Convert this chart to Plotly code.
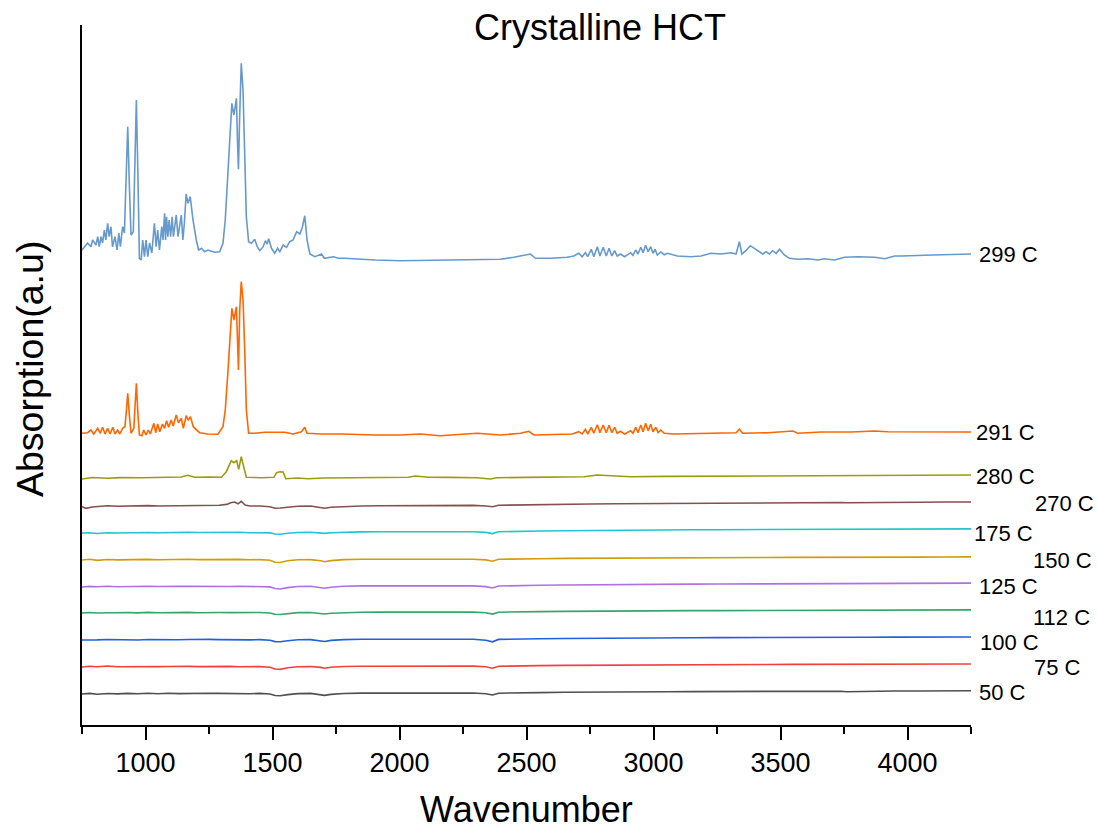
import plotly.graph_objects as go

FONT = "Liberation Sans, Arial, sans-serif"

# ---------------------------------------------------------------------------
# Spectra (wavenumber in cm^-1, absorption in arbitrary units relative to each
# trace's own baseline)
# ---------------------------------------------------------------------------
wn_299 = [750, 772, 785, 792, 805, 812, 818, 825, 831, 838,
          844, 851, 857, 864, 870, 880, 888, 895, 901, 910,
          917, 923, 930, 937, 943, 952, 958, 964, 970, 976,
          983, 989, 996, 1002, 1009, 1016, 1025, 1035, 1042, 1048,
          1055, 1064, 1069, 1075, 1079, 1083, 1088, 1093, 1099, 1105,
          1110, 1121, 1128, 1141, 1147, 1153, 1160, 1167, 1176, 1187,
          1200, 1209, 1220, 1233, 1246, 1272, 1292, 1305, 1314, 1322,
          1331, 1340, 1348, 1358, 1362, 1366, 1370, 1377, 1384, 1391,
          1397, 1406, 1417, 1430, 1440, 1450, 1463, 1472, 1479, 1485,
          1496, 1509, 1520, 1529, 1542, 1555, 1568, 1581, 1595, 1608,
          1618, 1627, 1636, 1647, 1667, 1693, 1704, 1739, 1760, 1785,
          1838, 1904, 2002, 2100, 2200, 2300, 2397, 2450, 2496, 2515,
          2535, 2594, 2660, 2686, 2706, 2719, 2732, 2741, 2755, 2765,
          2779, 2789, 2802, 2814, 2825, 2836, 2847, 2857, 2870, 2886,
          2910, 2919, 2930, 2939, 2950, 2959, 2969, 2979, 2989, 2998,
          3006, 3015, 3029, 3042, 3055, 3094, 3147, 3187, 3226, 3266,
          3305, 3325, 3338, 3348, 3364, 3381, 3397, 3417, 3430, 3443,
          3456, 3469, 3483, 3496, 3515, 3535, 3568, 3608, 3647, 3672,
          3713, 3752, 3805, 3871, 3910, 3950, 3976, 4100, 4250]
abs_299 = [8, 15, 11.3, 18, 13, 21.3, 11.3, 21.3, 15, 28,
           18, 34.7, 21.3, 31.3, 11.3, 21.3, 8, 25, 11.3, 31.3,
           25, 85, 131.3, 68, 23, 26.3, 85, 158, 85, -0.3,
           -2, 18, 1.3, 18, 1.3, 15, 5, 34.7, 11.3, 28,
           8, 31.3, 18, 44.7, 18, 41.3, 21.3, 38, 21.3, 41.3,
           21.3, 43, 21.3, 43, 18, 34.7, 64, 54.7, 61.3, 38,
           18, 8, 9.7, 6.3, 8, 5.7, 6.3, 14.7, 38, 71.3,
           118, 154.7, 143, 159.7, 118, 88.7, 135, 194.7, 168, 101.3,
           41.3, 16.3, 14.7, 18.7, 11.3, 7.3, 11.3, 17.3, 14, 19.3,
           9.7, 4.7, 9.7, 6.3, 13, 10.7, 16.3, 18, 26.3, 24,
           31.3, 42.3, 18, 4, 1.3, 4, -0.3, 1.3, -0.3, -0.3,
           -1.3, -2, -2.7, -2.3, -2, -1.7, -1.3, 0.7, 3, 4,
           -0.3, -0.3, 0.7, 2, 4.7, 1.3, 5.3, 1.3, 8.7, 1.3,
           11.3, 2, 10.7, 2, 9.7, 2, 7.3, 2, 4, 1.3,
           5.3, 2.7, 8, 4, 10.7, 5.3, 12.7, 6.3, 11.3, 4.7,
           8.7, 3, 6, 3.3, 4.7, 2, 1.3, 2, 4.7, 4,
           5.3, 4, 16.3, 4, 7.3, 12.3, 9.7, 6.3, 4, 6.3,
           4, 7.3, 4.7, 8.7, 3, -0.3, -1.3, -0.7, -2, -0.7,
           -2, 0.7, 1.3, 0.7, -0.7, 2, 2, 3, 4]

wn_291 = [750, 772, 785, 796, 812, 822, 831, 841, 851, 861,
          871, 880, 890, 899, 910, 919, 925, 930, 937, 943,
          954, 959, 964, 970, 976, 986, 993, 1002, 1011, 1019,
          1033, 1040, 1048, 1056, 1067, 1075, 1083, 1091, 1101, 1109,
          1121, 1130, 1141, 1149, 1160, 1168, 1177, 1188, 1200, 1213,
          1246, 1285, 1305, 1314, 1325, 1334, 1340, 1348, 1358, 1366,
          1371, 1377, 1384, 1391, 1397, 1406, 1430, 1469, 1509, 1549,
          1581, 1614, 1627, 1636, 1693, 1772, 1904, 2002, 2081, 2160,
          2305, 2358, 2397, 2476, 2509, 2529, 2594, 2680, 2706, 2719,
          2732, 2741, 2755, 2765, 2779, 2789, 2802, 2814, 2825, 2836,
          2847, 2857, 2870, 2886, 2910, 2919, 2930, 2939, 2950, 2959,
          2969, 2979, 2989, 2998, 3009, 3018, 3029, 3042, 3081, 3187,
          3239, 3325, 3338, 3351, 3450, 3549, 3568, 3660, 3778, 3871,
          3923, 3976, 4250]
abs_291 = [-0.3, 0.3, 3, -1, 4.7, -0.3, 5.7, -1, 4.7, -1,
           5.7, -1, 3, -1, 4.7, 6.3, 23, 39.7, 16.3, -0.3,
           4.7, 23, 49.7, 19.7, -2, -2.7, 3, -2, 3, -1,
           9.7, 0.3, 9, 1.3, 9, 4.7, 12.3, 5.7, 13, 7,
           18, 10.3, 14.7, 4.7, 17.3, 13, 16.3, 6.3, 3, 0.3,
           -1, -1.3, 6.3, 23, 63, 103, 124.7, 113, 126.3, 63,
           123, 151.3, 133, 79.7, 23, -0.3, -0.3, 0.7, 1, 0.7,
           -1, 1.3, 5.7, -0.3, -1, -1, -2, -2, -1, -2.7,
           -0.3, -1, -2, -0.3, 1.7, -2, -1.7, -1, 1.3, -1,
           3.7, -1, 5.7, -0.3, 8.3, 0.3, 8, 0.3, 7.7, 0.3,
           5.7, -0.3, 1.7, -1, 2.3, -0.3, 5.7, 0.3, 8, 1.3,
           9.7, 2.3, 8.7, 1.3, 5.7, 0.3, 3, -0.3, -1, -0.3,
           0.3, 0.3, 3.7, -0.3, 0.3, 2, -0.3, 1, 1, 2,
           1.3, 1.3, 1]

wn_280 = [750, 790, 851, 900, 983, 1050, 1114, 1140, 1167, 1193,
          1250, 1299, 1318, 1338, 1348, 1359, 1367, 1377, 1388, 1397,
          1457, 1506, 1516, 1529, 1542, 1552, 1600, 1640, 1700, 1772,
          1900, 2035, 2062, 2114, 2200, 2305, 2358, 2384, 2500, 2600,
          2726, 2779, 2831, 2910, 3050, 3200, 3350, 3500, 3650, 3800,
          3950, 4100, 4250]
abs_280 = [-1.0, 0.5, -0.3, 0.4, 0.3, 0.8, 1.3, 1.0, 2.7, 0.7,
           1.0, 0.7, 6.3, 17.3, 15.3, 17.3, 8.7, 21.3, 9.7, 0.7,
           0.3, 0.7, 5.3, 6.3, 6.0, -0.7, 0.0, -0.7, 0.0, 0.3,
           0.5, 0.7, 2.0, 0.7, 0.6, 0.3, -1.0, 0.3, 0.6, 0.8,
           1.3, 3.0, 2.3, 1.3, 1.6, 1.8, 2.0, 2.3, 2.2, 2.5,
           2.6, 2.8, 3.0]

wn_270 = [750, 765, 790, 850, 890, 930, 970, 1010, 1050, 1090,
          1130, 1170, 1210, 1250, 1290, 1320, 1335, 1351, 1364, 1377,
          1392, 1410, 1450, 1490, 1510, 1530, 1560, 1600, 1650, 1690,
          1705, 1730, 1780, 1850, 1920, 2000, 2100, 2200, 2290, 2340,
          2366, 2390, 2450, 2550, 2650, 2750, 2850, 2950, 3050, 3150,
          3250, 3350, 3450, 3550, 3650, 3740, 3760, 3850, 3950, 4050,
          4150, 4250]
abs_270 = [0.3, -1.3, 0.0, 1.3, 0.8, 1.2, 1.0, 1.4, 1.0, 1.2,
           0.9, 1.3, 1.1, 1.4, 1.7, 2.6, 4.3, 5.0, 3.2, 5.7,
           2.0, 1.0, 1.0, 0.2, -1.3, -1.0, -0.2, 0.8, 1.0, -0.8,
           -1.3, -0.2, 0.6, 1.0, 1.2, 1.3, 1.5, 1.7, 1.6, 1.0,
           0.3, 1.7, 2.0, 2.2, 2.6, 3.0, 3.2, 3.4, 3.6, 3.7,
           3.9, 4.0, 4.1, 4.3, 4.3, 4.5, 4.2, 4.6, 4.7, 4.8,
           5.0, 5.0]

# Low-temperature traces share one wavenumber grid
wn_flat = [750, 780, 810, 850, 890, 930, 970, 1010, 1050, 1090,
           1130, 1170, 1210, 1250, 1290, 1330, 1370, 1410, 1450, 1490,
           1510, 1530, 1560, 1600, 1650, 1690, 1705, 1730, 1780, 1850,
           1920, 2000, 2100, 2200, 2290, 2340, 2366, 2390, 2450, 2550,
           2650, 2750, 2850, 2950, 3050, 3150, 3250, 3350, 3450, 3550,
           3650, 3740, 3760, 3850, 3950, 4050, 4150, 4250]
abs_175 = [0, 0.2, -0.5, 0.3, 0.0, 0.4, 0.2, 0.5, 0.3, 0.6,
           0.4, 0.6, 0.5, 0.7, 0.6, 0.4, 0.7, 0.3, 0.5, 0.1,
           -1.0, -1.3, -0.3, 0.5, 0.7, 0.2, -0.4, 0.3, 0.8, 1.1,
           1.3, 1.4, 1.6, 1.7, 1.3, 0.6, -0.6, 1.2, 1.7, 2.0,
           2.3, 2.6, 2.8, 3.0, 3.1, 3.2, 3.3, 3.4, 3.5, 3.6,
           3.6, 3.7, 3.4, 3.8, 3.9, 4.0, 4.0, 4.1]
abs_150 = [0, 0.7, -0.4, 0.5, 0.1, 0.5, 0.2, 0.6, 0.3, 0.6,
           0.4, 0.7, 0.4, 0.6, 0.5, 0.3, 0.6, 0.2, 0.4, -0.2,
           -2.2, -2.5, -0.8, 0.2, 0.4, -0.8, -1.7, -0.6, 0.4, 0.8,
           0.9, 1.0, 1.1, 1.1, 0.8, 0.1, -1.2, 0.7, 1.1, 1.3,
           1.6, 1.8, 2.0, 2.1, 2.2, 2.3, 2.4, 2.5, 2.5, 2.6,
           2.6, 2.7, 2.2, 2.8, 2.9, 2.9, 3.0, 3.1]
abs_125 = [0, 0.6, 0.2, 0.7, 0.3, 0.6, 0.4, 0.8, 0.5, 0.9,
           0.6, 0.8, 0.6, 0.9, 0.7, 0.5, 0.8, 0.4, 0.6, 0.1,
           -1.5, -2.0, -0.6, 0.5, 0.7, -0.2, -1.2, -0.2, 0.7, 1.1,
           1.2, 1.3, 1.4, 1.5, 1.1, 0.4, -1.0, 1.0, 1.5, 1.7,
           2.0, 2.3, 2.5, 2.6, 2.8, 2.9, 3.0, 3.1, 3.2, 3.3,
           3.3, 3.4, 2.9, 3.5, 3.6, 3.7, 3.8, 3.9]
abs_112 = [0, 0.5, 0.0, 0.4, 0.2, 0.5, 0.1, 0.6, 0.3, 0.6,
           0.4, 0.6, 0.3, 0.7, 0.5, 0.4, 0.6, 0.2, 0.5, 0.0,
           -1.2, -1.5, -0.5, 0.4, 0.5, -0.3, -1.0, -0.2, 0.5, 0.8,
           0.9, 1.0, 1.1, 1.2, 0.9, 0.2, -1.1, 0.8, 1.2, 1.4,
           1.6, 1.9, 2.0, 2.1, 2.3, 2.4, 2.4, 2.5, 2.6, 2.6,
           2.7, 2.8, 2.3, 2.9, 2.9, 3.0, 3.1, 3.1]
abs_100 = [0, 0.4, 0.1, 0.5, 0.2, 0.4, 0.0, 0.5, 0.2, 0.6,
           0.3, 0.5, 0.2, 0.6, 0.4, 0.2, 0.5, 0.1, 0.4, -0.2,
           -1.6, -1.7, -0.7, 0.3, 0.4, -0.6, -1.5, -0.4, 0.4, 0.7,
           0.8, 0.9, 1.0, 1.1, 0.7, -0.3, -1.8, 0.6, 1.1, 1.3,
           1.5, 1.8, 1.9, 2.1, 2.2, 2.3, 2.4, 2.4, 2.5, 2.6,
           2.6, 2.7, 2.1, 2.8, 2.9, 2.9, 3.0, 3.0]
abs_75 = [0, 0.8, 0.2, 1.0, 0.3, 0.5, 0.1, 0.6, 0.4, 0.5,
          0.2, 0.6, 0.4, 0.7, 0.5, 0.6, 0.3, 0.5, 0.4, -0.3,
          -2.0, -2.4, -0.8, 0.3, 0.5, -0.4, -1.2, -0.3, 0.5, 0.8,
          0.9, 1.0, 1.1, 1.2, 0.9, 0.2, -1.2, 0.7, 1.2, 1.4,
          1.6, 1.8, 2.0, 2.1, 2.2, 2.3, 2.4, 2.5, 2.5, 2.6,
          2.7, 2.7, 2.3, 2.8, 2.9, 3.0, 3.1, 3.0]
abs_50 = [0, 0.6, -0.2, 0.5, 0.1, 0.6, 0.2, 0.7, 0.3, 0.8,
          0.4, 0.7, 0.5, 0.8, 0.6, 0.3, 0.7, 0.2, 0.6, 0.0,
          -1.5, -1.8, -0.6, 0.4, 0.6, -0.5, -1.4, -0.4, 0.5, 0.9,
          1.0, 1.1, 1.2, 1.3, 1.0, 0.3, -1.0, 0.8, 1.3, 1.4,
          1.7, 2.0, 2.1, 2.2, 2.3, 2.4, 2.5, 2.6, 2.6, 2.7,
          2.7, 2.8, 2.2, 2.9, 3.0, 3.0, 3.2, 3.2]

labels = ["299 C", "291 C", "280 C", "270 C", "175 C", "150 C",
          "125 C", "112 C", "100 C", "75 C", "50 C"]
wavenumbers = [wn_299, wn_291, wn_280, wn_270, wn_flat, wn_flat,
               wn_flat, wn_flat, wn_flat, wn_flat, wn_flat]
absorptions = [abs_299, abs_291, abs_280, abs_270, abs_175, abs_150,
               abs_125, abs_112, abs_100, abs_75, abs_50]

# ---------------------------------------------------------------------------
# Styling / stacking
# ---------------------------------------------------------------------------
colors = ["#6699cc", "#ff6600", "#9c9c10", "#85504f", "#20c5d0", "#d19c0a",
          "#b070e0", "#37a56a", "#2060dd", "#f0413e", "#505050"]
stack_offsets = [467, 292, 247, 218, 192, 165, 138, 112, 85, 58, 31]

# label placement: left edge (px) and vertical centre (px) of each label
label_left_px = [977, 974, 974, 1033, 972, 1031, 977, 1031, 978, 1032, 977]
label_mid_px = [254, 432, 476, 503, 533, 560, 586, 617, 642, 667, 692]

PLOT_L, PLOT_T, PLOT_W, PLOT_H = 82, 25, 889, 700
Y_MAX = 700

fig = go.Figure()
for wn, ab, off, col in zip(wavenumbers, absorptions, stack_offsets, colors):
    assert len(wn) == len(ab)
    fig.add_trace(go.Scatter(
        x=wn, y=[off + a for a in ab], mode="lines",
        line=dict(color=col, width=1.6),
        hoverinfo="skip", showlegend=False,
    ))

annotations = []
for text, lx, ly in zip(labels, label_left_px, label_mid_px):
    annotations.append(dict(
        text=text, xref="paper", yref="paper",
        x=(lx - PLOT_L) / PLOT_W, y=(PLOT_T + PLOT_H - ly) / PLOT_H,
        xanchor="left", yanchor="middle", showarrow=False,
        font=dict(family=FONT, size=22, color="black"),
    ))

# axis titles
annotations.append(dict(
    text="Wavenumber", xref="paper", yref="paper",
    x=0.5, y=(PLOT_T + PLOT_H - 809) / PLOT_H,
    xanchor="center", yanchor="middle", showarrow=False,
    font=dict(family=FONT, size=36, color="black"),
))
annotations.append(dict(
    text="Absorption(a.u)", xref="paper", yref="paper",
    x=(30 - PLOT_L) / PLOT_W, y=(PLOT_T + PLOT_H - 369) / PLOT_H,
    xanchor="center", yanchor="middle", showarrow=False, textangle=-90,
    font=dict(family=FONT, size=37.5, color="black"),
))

fig.update_layout(
    width=1097, height=831,
    margin=dict(l=PLOT_L, r=1097 - PLOT_L - PLOT_W, t=PLOT_T,
                b=831 - PLOT_T - PLOT_H, pad=0),
    paper_bgcolor="white", plot_bgcolor="white",
    font=dict(family=FONT, color="black"),
    title=dict(text="Crystalline HCT", xref="container", yref="container",
               x=600 / 1097, xanchor="center", y=1 - 27 / 831,
               yanchor="middle",
               font=dict(family=FONT, size=36, color="black")),
    annotations=annotations,
    xaxis=dict(
        range=[750, 4250], tickmode="linear", tick0=1000, dtick=500,
        ticks="outside", ticklen=13, tickwidth=2, tickcolor="black",
        showline=True, linewidth=2, linecolor="black",
        showgrid=False, zeroline=False,
        tickfont=dict(family=FONT, size=27, color="black"),
        minor=dict(ticks="outside", ticklen=7, tickwidth=2,
                   tickcolor="black", tick0=750, dtick=250,
                   showgrid=False),
    ),
    yaxis=dict(
        range=[0, Y_MAX], showline=True, linewidth=2, linecolor="black",
        showticklabels=False, ticks="", showgrid=False, zeroline=False,
    ),
)

fig.write_html("out.html")
